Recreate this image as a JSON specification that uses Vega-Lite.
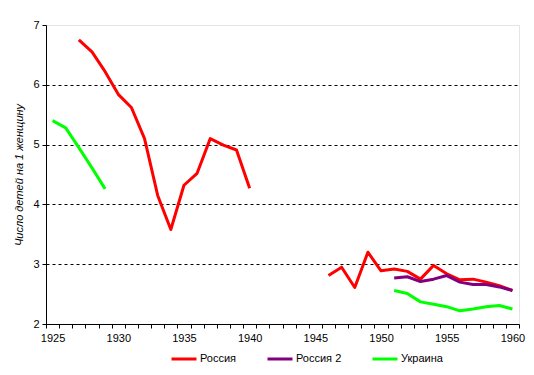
{
  "$schema": "https://vega.github.io/schema/vega-lite/v6.json",
  "autosize": "none",
  "width": 473,
  "height": 299,
  "padding": {"left": 46, "top": 25, "right": 15, "bottom": 51},
  "background": "white",
  "config": {
    "view": {"stroke": "#e4e4e4", "strokeWidth": 1},
    "font": "Liberation Sans",
    "axis": {"labelFont": "Liberation Sans", "labelFontSize": 11, "labelColor": "#000000", "domainColor": "#000000", "tickColor": "#000000", "domainWidth": 1, "tickWidth": 1}
  },
  "data": {
    "values": [
      {"year": 1927, "v": 6.75, "s": "Россия", "seg": "r1"},
      {"year": 1928, "v": 6.55, "s": "Россия", "seg": "r1"},
      {"year": 1929, "v": 6.22, "s": "Россия", "seg": "r1"},
      {"year": 1930, "v": 5.84, "s": "Россия", "seg": "r1"},
      {"year": 1931, "v": 5.62, "s": "Россия", "seg": "r1"},
      {"year": 1932, "v": 5.1, "s": "Россия", "seg": "r1"},
      {"year": 1933, "v": 4.15, "s": "Россия", "seg": "r1"},
      {"year": 1934, "v": 3.58, "s": "Россия", "seg": "r1"},
      {"year": 1935, "v": 4.32, "s": "Россия", "seg": "r1"},
      {"year": 1936, "v": 4.52, "s": "Россия", "seg": "r1"},
      {"year": 1937, "v": 5.1, "s": "Россия", "seg": "r1"},
      {"year": 1938, "v": 4.99, "s": "Россия", "seg": "r1"},
      {"year": 1939, "v": 4.91, "s": "Россия", "seg": "r1"},
      {"year": 1940, "v": 4.27, "s": "Россия", "seg": "r1"},
      {"year": 1946, "v": 2.81, "s": "Россия", "seg": "r2"},
      {"year": 1947, "v": 2.95, "s": "Россия", "seg": "r2"},
      {"year": 1948, "v": 2.61, "s": "Россия", "seg": "r2"},
      {"year": 1949, "v": 3.2, "s": "Россия", "seg": "r2"},
      {"year": 1950, "v": 2.89, "s": "Россия", "seg": "r2"},
      {"year": 1951, "v": 2.92, "s": "Россия", "seg": "r2"},
      {"year": 1952, "v": 2.88, "s": "Россия", "seg": "r2"},
      {"year": 1953, "v": 2.75, "s": "Россия", "seg": "r2"},
      {"year": 1954, "v": 2.98, "s": "Россия", "seg": "r2"},
      {"year": 1955, "v": 2.84, "s": "Россия", "seg": "r2"},
      {"year": 1956, "v": 2.74, "s": "Россия", "seg": "r2"},
      {"year": 1957, "v": 2.75, "s": "Россия", "seg": "r2"},
      {"year": 1958, "v": 2.7, "s": "Россия", "seg": "r2"},
      {"year": 1959, "v": 2.64, "s": "Россия", "seg": "r2"},
      {"year": 1960, "v": 2.56, "s": "Россия", "seg": "r2"},
      {"year": 1951, "v": 2.77, "s": "Россия 2", "seg": "p1"},
      {"year": 1952, "v": 2.79, "s": "Россия 2", "seg": "p1"},
      {"year": 1953, "v": 2.71, "s": "Россия 2", "seg": "p1"},
      {"year": 1954, "v": 2.75, "s": "Россия 2", "seg": "p1"},
      {"year": 1955, "v": 2.81, "s": "Россия 2", "seg": "p1"},
      {"year": 1956, "v": 2.7, "s": "Россия 2", "seg": "p1"},
      {"year": 1957, "v": 2.66, "s": "Россия 2", "seg": "p1"},
      {"year": 1958, "v": 2.66, "s": "Россия 2", "seg": "p1"},
      {"year": 1959, "v": 2.62, "s": "Россия 2", "seg": "p1"},
      {"year": 1960, "v": 2.56, "s": "Россия 2", "seg": "p1"},
      {"year": 1925, "v": 5.4, "s": "Украина", "seg": "u1"},
      {"year": 1926, "v": 5.28, "s": "Украина", "seg": "u1"},
      {"year": 1927, "v": 4.95, "s": "Украина", "seg": "u1"},
      {"year": 1928, "v": 4.61, "s": "Украина", "seg": "u1"},
      {"year": 1929, "v": 4.26, "s": "Украина", "seg": "u1"},
      {"year": 1951, "v": 2.56, "s": "Украина", "seg": "u2"},
      {"year": 1952, "v": 2.51, "s": "Украина", "seg": "u2"},
      {"year": 1953, "v": 2.37, "s": "Украина", "seg": "u2"},
      {"year": 1954, "v": 2.33, "s": "Украина", "seg": "u2"},
      {"year": 1955, "v": 2.29, "s": "Украина", "seg": "u2"},
      {"year": 1956, "v": 2.22, "s": "Украина", "seg": "u2"},
      {"year": 1957, "v": 2.25, "s": "Украина", "seg": "u2"},
      {"year": 1958, "v": 2.29, "s": "Украина", "seg": "u2"},
      {"year": 1959, "v": 2.31, "s": "Украина", "seg": "u2"},
      {"year": 1960, "v": 2.25, "s": "Украина", "seg": "u2"}
    ]
  },
  "mark": {"type": "line", "strokeWidth": 3, "strokeJoin": "round", "strokeCap": "butt"},
  "encoding": {
    "x": {
      "field": "year",
      "type": "quantitative",
      "scale": {"domain": [1924.5, 1960.5], "nice": false, "zero": false},
      "axis": {
        "title": null,
        "grid": false,
        "values": [1924.5, 1925.5, 1926.5, 1927.5, 1928.5, 1929.5, 1930.5, 1931.5, 1932.5, 1933.5, 1934.5, 1935.5, 1936.5, 1937.5, 1938.5, 1939.5, 1940.5, 1941.5, 1942.5, 1943.5, 1944.5, 1945.5, 1946.5, 1947.5, 1948.5, 1949.5, 1950.5, 1951.5, 1952.5, 1953.5, 1954.5, 1955.5, 1956.5, 1957.5, 1958.5, 1959.5, 1960.5],
        "labelExpr": "(datum.value - 4.5) % 5 == 0 ? format(datum.value + 0.5, 'd') : ''",
        "labelOffset": 6.57,
        "labelOverlap": false,
        "labelFlush": false,
        "labelBound": false,
        "tickSize": 4,
        "labelPadding": 4
      }
    },
    "y": {
      "field": "v",
      "type": "quantitative",
      "scale": {"domain": [2, 7], "nice": false, "zero": false},
      "axis": {
        "values": [2, 3, 4, 5, 6, 7],
        "format": "d",
        "title": "Число детей на 1 женщину",
        "titleFont": "Liberation Sans",
        "titleFontSize": 11,
        "titleFontStyle": "italic",
        "titleFontWeight": "normal",
        "titleColor": "#000000",
        "titlePadding": 8,
        "tickSize": 4,
        "labelPadding": 3,
        "grid": true,
        "gridColor": "#000000",
        "gridDash": [3, 3],
        "gridWidth": 1,
        "gridOpacity": {"condition": {"test": "datum.value >= 7 || datum.value <= 2", "value": 0}, "value": 1}
      }
    },
    "color": {
      "field": "s",
      "type": "nominal",
      "scale": {"domain": ["Россия", "Россия 2", "Украина"], "range": ["#ff0000", "#800080", "#00ff00"]},
      "legend": {
        "title": null,
        "orient": "none",
        "direction": "horizontal",
        "legendX": 124,
        "legendY": 320,
        "padding": 0,
        "symbolType": "stroke",
        "symbolSize": 625,
        "symbolStrokeWidth": 3,
        "labelFont": "Liberation Sans",
        "labelFontSize": 11,
        "labelColor": "#000000",
        "labelOffset": 2,
        "columnPadding": 24
      }
    },
    "detail": {"field": "seg", "type": "nominal"}
  }
}
